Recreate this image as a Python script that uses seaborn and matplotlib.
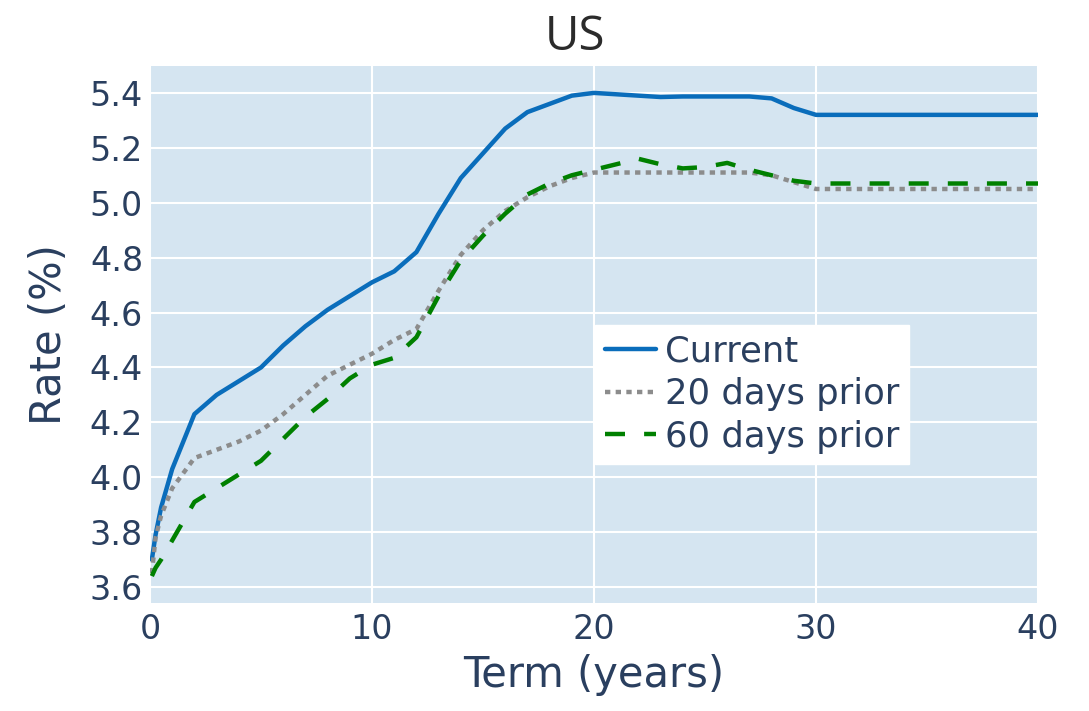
import matplotlib
matplotlib.use("Agg")
import matplotlib.pyplot as plt
import seaborn as sns
import pandas as pd
import numpy as np

# ---- data ----
terms = [1/12, 0.25, 0.5, 1, 2, 3, 4, 5, 6, 7, 8, 9, 10, 11, 12, 13, 14, 15,
         16, 17, 18, 19, 20, 21, 22, 23, 24, 25, 26, 27, 28, 29, 30, 40]
current = [3.70, 3.79, 3.89, 4.03, 4.23, 4.30, 4.35, 4.40, 4.48, 4.55, 4.61,
           4.66, 4.71, 4.75, 4.82, 4.96, 5.09, 5.18, 5.27, 5.33, 5.36, 5.39,
           5.40, 5.395, 5.39, 5.385, 5.387, 5.387, 5.387, 5.387, 5.38, 5.345,
           5.32, 5.32]
prior20 = [3.65, 3.78, 3.86, 3.96, 4.07, 4.10, 4.13, 4.17, 4.23, 4.30, 4.37,
           4.41, 4.45, 4.50, 4.54, 4.68, 4.81, 4.90, 4.97, 5.02, 5.06, 5.09,
           5.11, 5.11, 5.11, 5.11, 5.11, 5.11, 5.11, 5.11, 5.10, 5.075,
           5.05, 5.05]
prior60 = [3.64, 3.67, 3.70, 3.77, 3.91, 3.96, 4.01, 4.06, 4.14, 4.22, 4.285,
           4.36, 4.41, 4.435, 4.51, 4.66, 4.79, 4.88, 4.96, 5.03, 5.07, 5.10,
           5.12, 5.14, 5.16, 5.14, 5.125, 5.13, 5.145, 5.12, 5.10, 5.08,
           5.07, 5.07]
series_names = ["Current", "20 days prior", "60 days prior"]
xticks = [0, 10, 20, 30, 40]
yticks = [3.6, 3.8, 4.0, 4.2, 4.4, 4.6, 4.8, 5.0, 5.2, 5.4]

df = pd.DataFrame({
    "Term": terms * 3,
    "Rate": current + prior20 + prior60,
    "Series": [series_names[0]] * len(terms) + [series_names[1]] * len(terms)
              + [series_names[2]] * len(terms),
})

sns.set_theme(style="darkgrid")
plt.rcParams["font.family"] = ["DejaVu Sans"]

W, H = 1089, 711
fig = plt.figure(figsize=(W / 100, H / 100), dpi=100)
ax = fig.add_axes([150 / W, (H - 603) / H, 888 / W, 537 / H])
ax.set_facecolor("#d5e5f1")

text_color = "#2a3f5f"
colors = {"Current": "#0a6dbb", "20 days prior": "#8c8c8c", "60 days prior": "#008000"}

lw = 3.2
for name in series_names:
    sub = df[df["Series"] == name]
    sns.lineplot(data=sub, x="Term", y="Rate", ax=ax, color=colors[name],
                 linewidth=lw, label=name, sort=True, estimator=None)

lines = ax.get_lines()
lines[0].set_linestyle("-")
lines[1].set_dashes((1.2, 1.2))
lines[1].set_dash_capstyle("butt")
lines[2].set_dashes((4.5, 4.3))
lines[2].set_dash_capstyle("butt")

ax.set_xlim(0, 40)
ax.set_ylim(3.542, 5.498)
ax.set_xticks(xticks)
ax.set_yticks(yticks)
ax.set_yticklabels([f"{v:.1f}" for v in yticks])
ax.grid(True, color="white", linewidth=1.5)
for s in ax.spines.values():
    s.set_visible(False)
ax.tick_params(axis="both", length=0, labelsize=24, colors=text_color)
ax.tick_params(axis="y", pad=5)
ax.tick_params(axis="x", pad=7)

ax.set_xlabel("Term (years)", fontsize=30, color=text_color)
ax.set_ylabel("Rate (%)", fontsize=30, color=text_color)
ax.xaxis.set_label_coords(0.5, -0.095)
ax.yaxis.set_label_coords(-0.09, 0.5)

fig.text(575 / W, 1 - 50 / H, "US", ha="center", va="baseline",
         fontsize=34, color="#2b2b2b", family=["Open Sans", "DejaVu Sans"])

leg = ax.legend(loc="upper left", bbox_to_anchor=(0.501, 0.518),
                borderaxespad=0, frameon=True, fancybox=False,
                facecolor="white", edgecolor="white", framealpha=1,
                fontsize=25.5, handlelength=1.44, handletextpad=0.26,
                labelspacing=0.24, borderpad=0.28)
for t in leg.get_texts():
    t.set_color(text_color)

fig.savefig("out.png", dpi=100, facecolor="white")
